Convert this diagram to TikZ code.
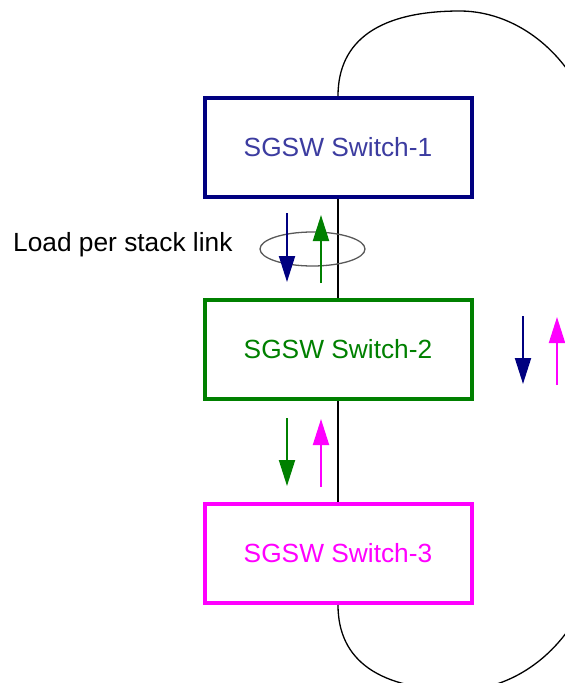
\documentclass[tikz,border=0pt]{standalone}
\usepackage{fontspec}
\setmainfont{Liberation Sans}
\usetikzlibrary{arrows.meta, shapes.geometric}

\definecolor{swnavy}{RGB}{0,0,128}
\definecolor{swnavytext}{RGB}{60,60,160}
\definecolor{swgreen}{RGB}{0,128,0}
\definecolor{swmagenta}{RGB}{255,0,255}

\tikzset{
  switchbox/.style={draw, line width=4pt, minimum width=267pt, minimum height=99pt,
                    font=\fontsize{26.3}{30}\selectfont, inner sep=0pt},
  loadarrow/.style={line width=2pt, -{Triangle[width=16pt,length=26pt]}},
}

\begin{document}
\begin{tikzpicture}[x=1pt, y=-1pt]
\useasboundingbox (0,0) rectangle (565,683);

%% ---- Switch stack ----
\node[switchbox, swnavy, text=swnavytext] (sw1) at (338,147.5) {SGSW Switch-1};
\node[switchbox, swgreen]                 (sw2) at (338,349.5) {SGSW Switch-2};
\node[switchbox, swmagenta]               (sw3) at (338,553.5) {SGSW Switch-3};

%% ---- Stack links ----
\draw[line width=1.3pt] (sw1) -- (sw2);
\draw[line width=1.3pt] (sw2) -- (sw3);
\begin{scope}
  \clip (0,0) rectangle (565,683);
  \draw[line width=1.3pt] (sw1.north)
      .. controls (338,40) and (380,11) .. (460,11)
      .. controls (520,11) and (585,60) .. (600,150)
      -- (600,551)
      .. controls (585,641) and (520,690) .. (460,690)
      .. controls (380,690) and (338,661) .. (sw3.south);
\end{scope}

%% ---- Load per stack link ----
\node[draw=gray!70!black, line width=1.3pt, ellipse, minimum width=105pt,
      minimum height=34pt, inner sep=0pt] (ring) at (312.5,249) {};
\node[font=\fontsize{26.3}{30}\selectfont, anchor=east] (lbl) at (236,245) {Load per stack link};
\draw[loadarrow, swnavy]    (287,213) -- (287,282);
\draw[loadarrow, swgreen]   (321,283) -- (321,215);
\draw[loadarrow, swgreen]   (287,418) -- (287,486);
\draw[loadarrow, swmagenta] (321,487) -- (321,419);
\draw[loadarrow, swnavy]    (523,316) -- (523,384);
\draw[loadarrow, swmagenta] (557,385) -- (557,317);

\end{tikzpicture}
\end{document}
